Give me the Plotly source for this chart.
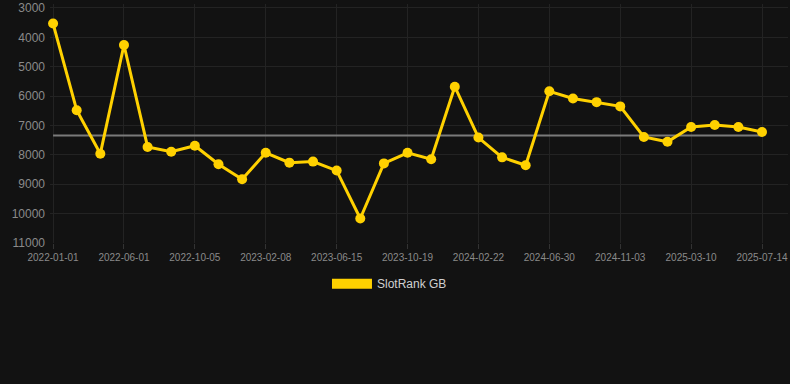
import plotly.graph_objects as go

dates = [
    "2022-01-01", "2022-02-20", "2022-04-11", "2022-06-01", "2022-07-13", "2022-08-24",
    "2022-10-05", "2022-11-16", "2022-12-28", "2023-02-08", "2023-03-22", "2023-05-04",
    "2023-06-15", "2023-07-27", "2023-09-07", "2023-10-19", "2023-11-30", "2024-01-11",
    "2024-02-22", "2024-04-05", "2024-05-18", "2024-06-30", "2024-08-11", "2024-09-22",
    "2024-11-03", "2024-12-15", "2025-01-27", "2025-03-10", "2025-04-21", "2025-06-02",
    "2025-07-14",
]
ranks = [
    3530, 6480, 7960, 4260, 7730, 7895, 7690, 8320, 8830, 7930, 8265, 8230,
    8535, 10165, 8290, 7930, 8150, 5680, 7410, 8085, 8355, 5835, 6080, 6205,
    6350, 7390, 7555, 7050, 6985, 7050, 7220,
]
y_ticks = [3000, 4000, 5000, 6000, 7000, 8000, 9000, 10000, 11000]
y_tick_text = [str(v) for v in y_ticks]
x_tick_labels = dates[::3]

GOLD = "#FFD100"
avg = sum(ranks) / len(ranks)

fig = go.Figure()
fig.add_trace(go.Scatter(
    x=[dates[0], dates[-1]], y=[avg, avg], mode="lines",
    line=dict(color="#7a7a7a", width=2),
    showlegend=False, hoverinfo="skip",
))
fig.add_trace(go.Scatter(
    x=dates, y=ranks, mode="lines+markers",
    line=dict(color=GOLD, width=3),
    marker=dict(color=GOLD, size=10),
    showlegend=False, hoverinfo="x+y", cliponaxis=False,
))
fig.add_trace(go.Scatter(
    x=[None], y=[None], mode="lines", name="SlotRank GB",
    line=dict(color=GOLD, width=12),
))

fig.update_layout(
    width=790, height=384,
    paper_bgcolor="#121212", plot_bgcolor="#121212",
    margin=dict(l=50, r=2, t=1, b=141),
    font=dict(family="Liberation Sans, Arial, sans-serif", color="#8a8a8a"),
    xaxis=dict(
        type="category", categoryorder="array", categoryarray=dates,
        range=[-0.13, 31.1],
        tickmode="array", tickvals=x_tick_labels, ticktext=x_tick_labels,
        showgrid=True, gridcolor="#232323", gridwidth=1,
        zeroline=False, showline=False,
        ticks="outside", ticklen=5, tickcolor="#333333",
        tickfont=dict(size=10, color="#8a8a8a"),
        tickangle=0,
    ),
    yaxis=dict(
        range=[11000, 2865], tickmode="array", tickvals=y_ticks, ticktext=y_tick_text,
        showgrid=True, gridcolor="#232323", gridwidth=1,
        zeroline=False, showline=False,
        tickfont=dict(size=12, color="#8a8a8a"),
        ticklabelstandoff=4, ticklabeloverflow="allow",
    ),
    legend=dict(
        orientation="h", x=0.46, xanchor="center",
        y=-0.11, yanchor="top",
        font=dict(size=12, color="#d0d0d0"), itemwidth=40,
        bgcolor="rgba(0,0,0,0)",
    ),
)

fig.write_html(
    "out.html",
    config={"displayModeBar": False},
    post_script="document.body.style.margin='0';",
)
